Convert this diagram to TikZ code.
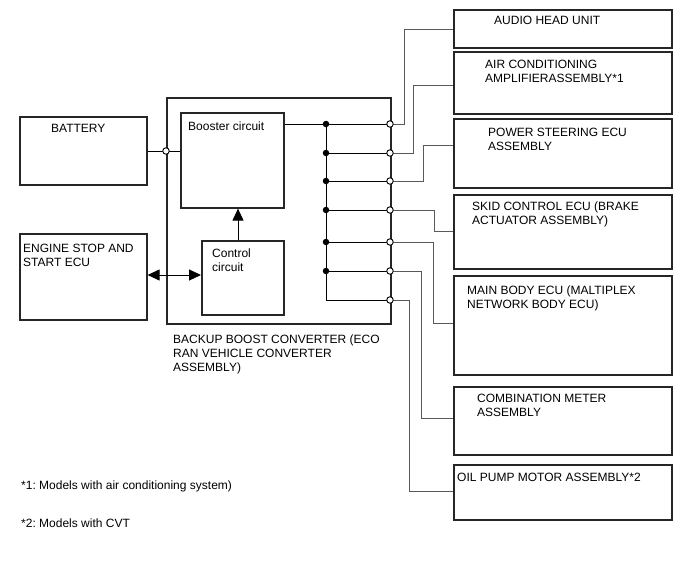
\documentclass[tikz,border=0pt]{standalone}
\usepackage{fontspec}
\setmainfont{Liberation Sans}
\usetikzlibrary{arrows.meta}
\frenchspacing
\begin{document}
\begin{tikzpicture}[x=1pt,y=-1pt,
  box/.style={draw=black!85,line width=1.6pt,anchor=north west,inner sep=0pt},
  conn/.style={draw=black!65,line width=0.9pt},
  bus/.style={draw=black,line width=1pt},
  opendot/.style={circle,draw=black,fill=white,inner sep=0pt,minimum size=6.5pt,line width=0.9pt},
  filldot/.style={circle,fill=black,inner sep=0pt,minimum size=6.5pt},
  lbl/.style={anchor=north west,inner sep=0pt,align=left,font=\fontsize{12}{14}\selectfont},
  bigtip/.style={-{Triangle[length=12pt,width=11pt]}}
]
\useasboundingbox (0,0) rectangle (688,560);
% left boxes
\node[box,minimum width=127pt,minimum height=68pt] (battery) at (19,116) {};
\node[box,minimum width=127pt,minimum height=86pt] (engine) at (19,233) {};
% converter
\node[box,minimum width=224pt,minimum height=226pt] (conv) at (166,97) {};
\node[box,minimum width=103pt,minimum height=95pt] (booster) at (180,112) {};
\node[box,minimum width=82pt,minimum height=74pt] (control) at (201,240) {};
% right boxes
\node[box,minimum width=218pt,minimum height=38pt] (audio) at (453,9) {};
\node[box,minimum width=218pt,minimum height=62pt] (air) at (453,51) {};
\node[box,minimum width=218pt,minimum height=69pt] (power) at (453,118) {};
\node[box,minimum width=218pt,minimum height=74pt] (skid) at (453,194) {};
\node[box,minimum width=218pt,minimum height=99pt] (main) at (453,275) {};
\node[box,minimum width=218pt,minimum height=68pt] (comb) at (453,386) {};
\node[box,minimum width=218pt,minimum height=55pt] (oil) at (453,464) {};
% labels
\node[lbl] (tbat) at (51,124) {BATTERY};
\node[lbl] (teng) at (23,244) {ENGINE STOP AND\\START ECU};
\node[lbl] (tboo) at (188,122) {Booster circuit};
\node[lbl] (tcon) at (212,249) {Control\\circuit};
\node[lbl] (tconv) at (173,335) {BACKUP BOOST CONVERTER (ECO\\RAN VEHICLE CONVERTER\\ASSEMBLY)};
\node[lbl] (taud) at (494,16) {AUDIO HEAD UNIT};
\node[lbl] (tair) at (485,60) {AIR CONDITIONING\\AMPLIFIERASSEMBLY*1};
\node[lbl] (tpow) at (488,128) {POWER STEERING ECU\\ASSEMBLY};
\node[lbl] (tski) at (472,202) {SKID CONTROL ECU (BRAKE\\ACTUATOR ASSEMBLY)};
\node[lbl] (tmai) at (467,286) {MAIN BODY ECU (MALTIPLEX\\NETWORK BODY ECU)};
\node[lbl] (tcom) at (477,394) {COMBINATION METER\\ASSEMBLY};
\node[lbl] (toil) at (457,473) {OIL PUMP MOTOR ASSEMBLY*2};
\node[lbl] (fn1) at (21,481) {*1: Models with air conditioning system)};
\node[lbl] (fn2) at (21,519) {*2: Models with CVT};
% arrows
\draw[bus,bigtip] (control.north -| 238,0) -- (booster.south -| 238,0);
\draw[bus,{Triangle[length=12pt,width=11pt]}-{Triangle[length=12pt,width=11pt]}] (engine.east |- 0,275) -- (control.west |- 0,275);
% dots
\coordinate (dcorner) at (326,300);
\node[filldot] (d1) at (326,124) {};
\node[filldot] (d2) at (326,153) {};
\node[filldot] (d3) at (326,181) {};
\node[filldot] (d4) at (326,210) {};
\node[filldot] (d5) at (326,242) {};
\node[filldot] (d6) at (326,271) {};
% bus lines
\draw[bus] (booster.east |- d1) -- (d1.center) -- (dcorner) -- (390,300);
\foreach \i in {1,...,6} { \draw[bus] (d\i.center) -- (390,0 |- d\i); }
% battery line
\draw[bus] (battery.east |- 0,151) -- (booster.west |- 0,151);
% external connectors
\draw[conn] (390,124) -| (404,29) -- (audio.west |- 0,29);
\draw[conn] (390,153) -| (413,85) -- (air.west |- 0,85);
\draw[conn] (390,181) -| (423,145) -- (power.west |- 0,145);
\draw[conn] (390,210) -| (434,231) -- (skid.west |- 0,231);
\draw[conn] (390,242) -| (433,323) -- (main.west |- 0,323);
\draw[conn] (390,271) -| (421,418) -- (comb.west |- 0,418);
\draw[conn] (390,300) -| (409,491) -- (oil.west |- 0,491);
% open circles
\node[opendot] (ob) at (166,151) {};
\node[opendot] (o1) at (390,124) {};
\node[opendot] (o2) at (390,153) {};
\node[opendot] (o3) at (390,181) {};
\node[opendot] (o4) at (390,210) {};
\node[opendot] (o5) at (390,242) {};
\node[opendot] (o6) at (390,271) {};
\node[opendot] (o7) at (390,300) {};
\end{tikzpicture}
\end{document}
